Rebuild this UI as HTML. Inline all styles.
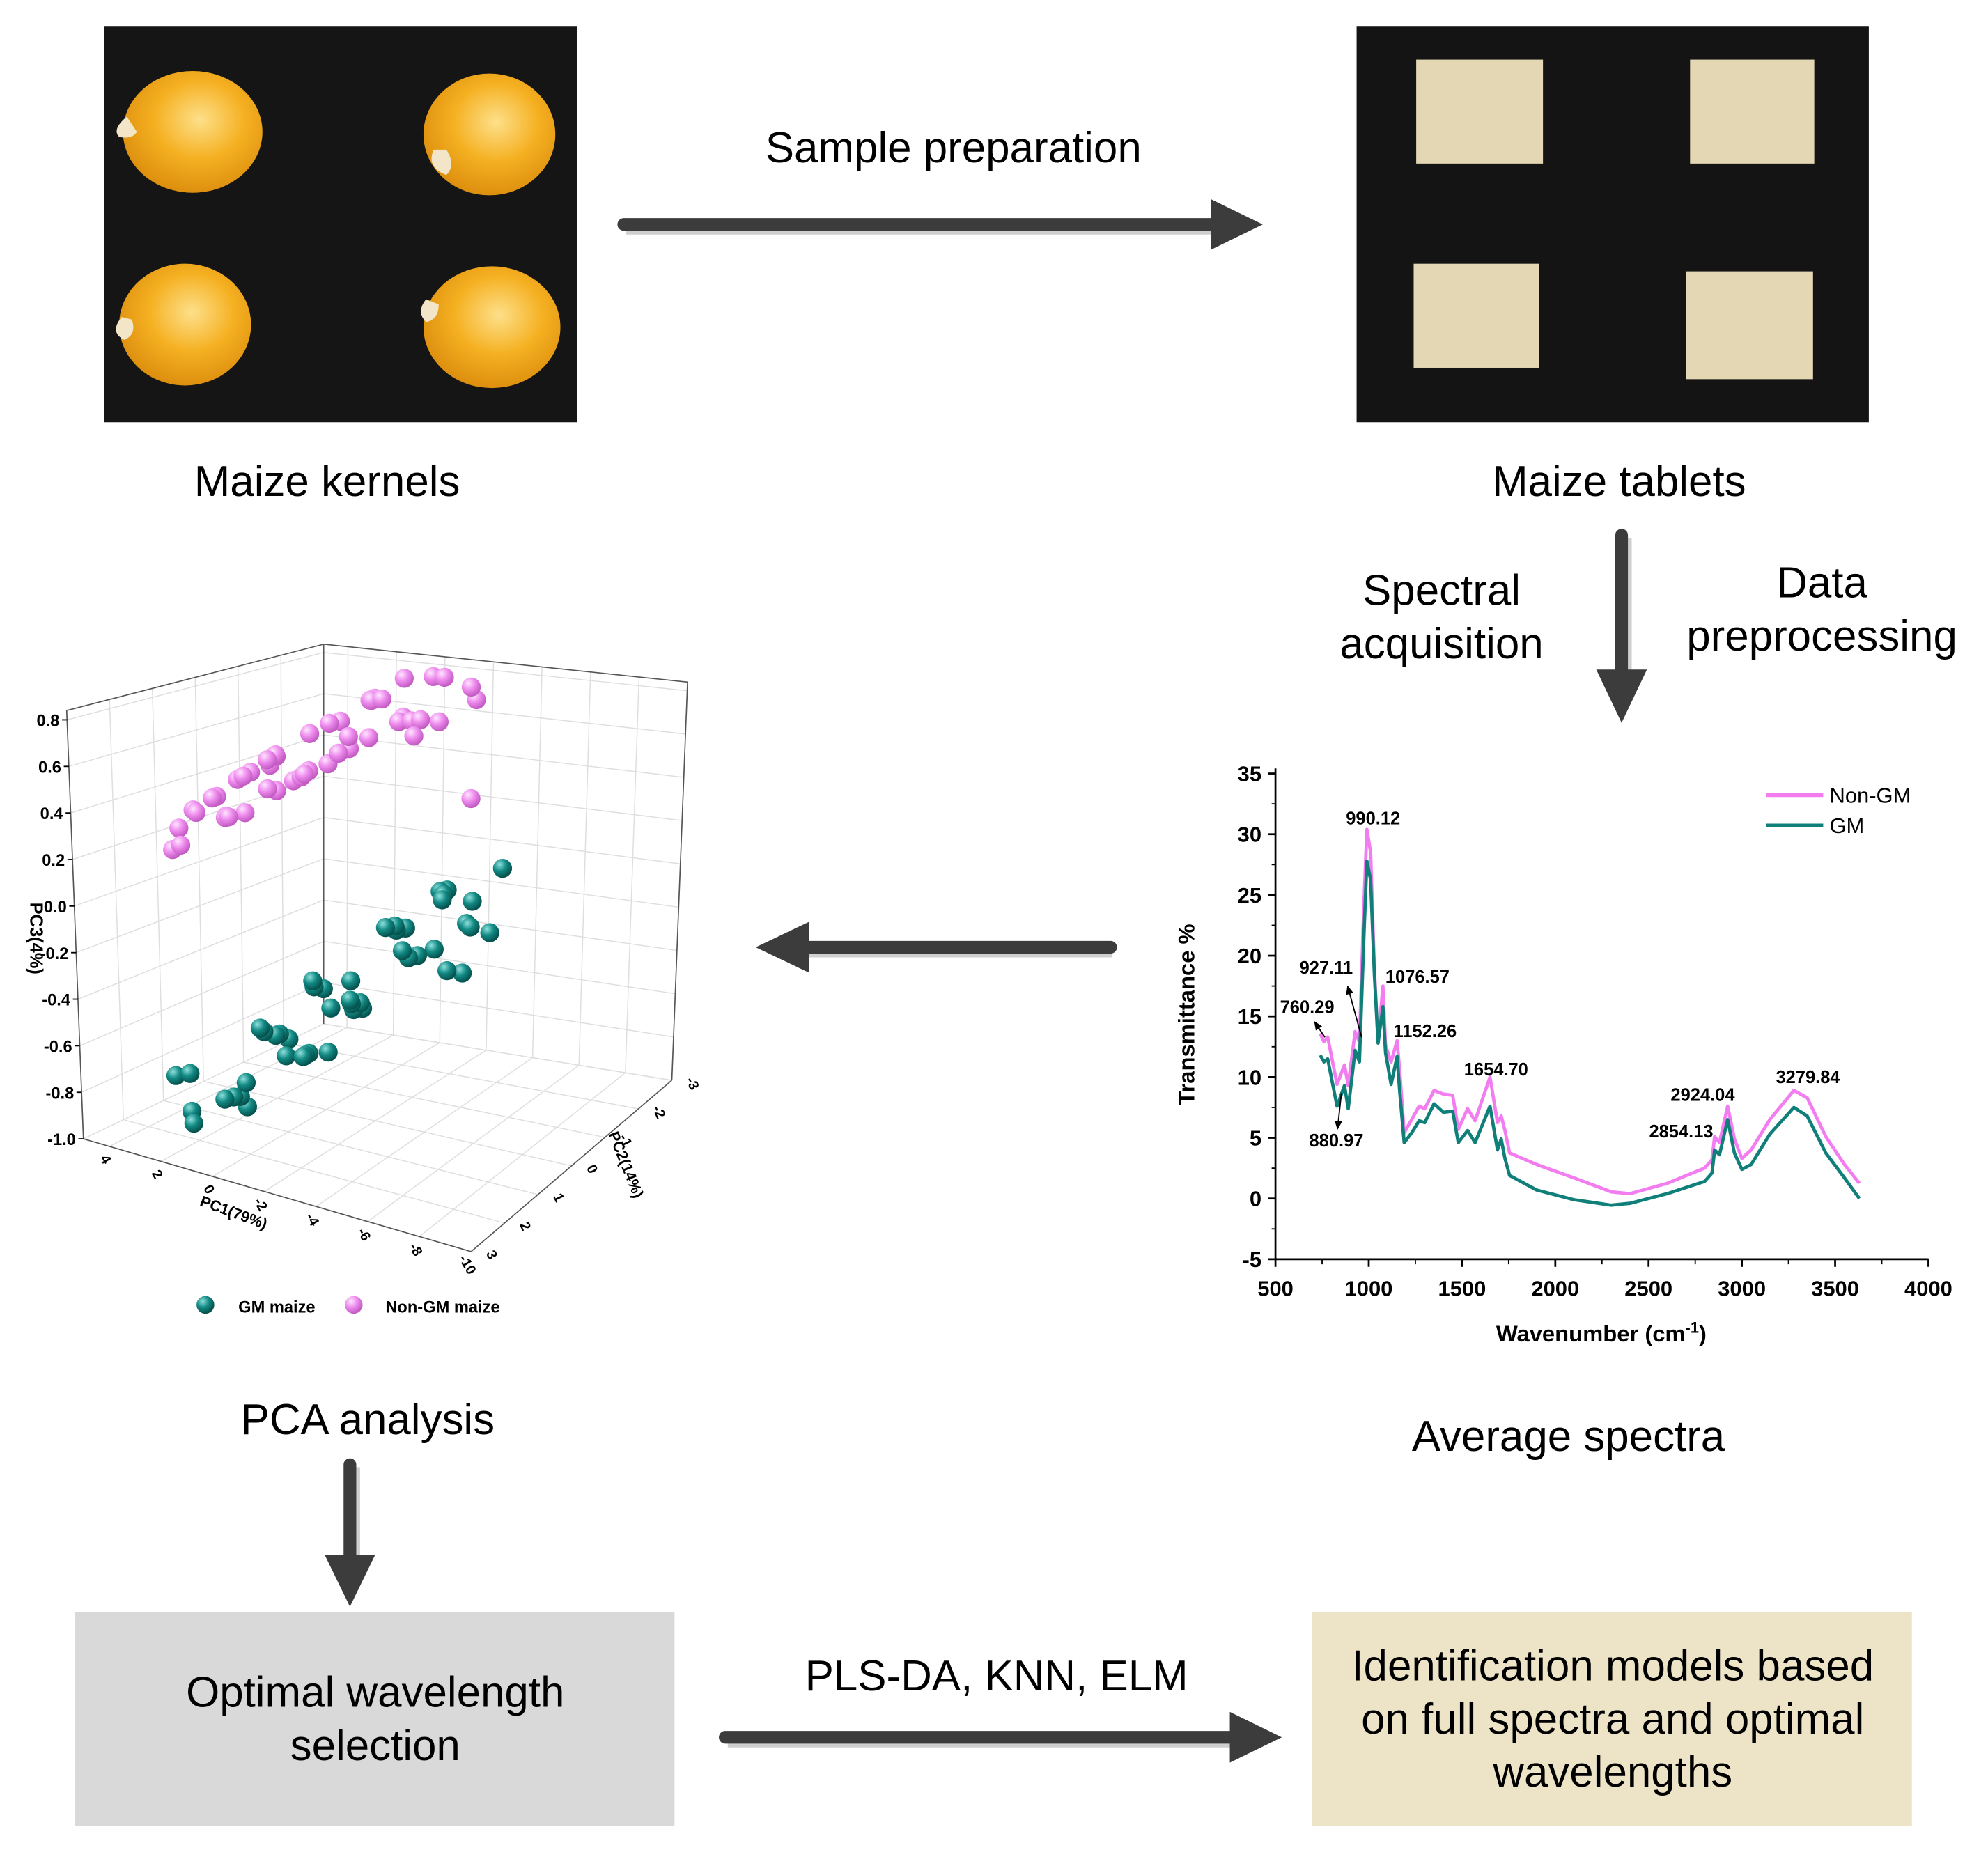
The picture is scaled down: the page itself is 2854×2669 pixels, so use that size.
<!DOCTYPE html>
<html><head><meta charset="utf-8"><style>
html,body{margin:0;padding:0;background:#fff}
svg{display:block}
text{font-family:"Liberation Sans",Arial,sans-serif}
</style></head><body>
<svg id="root" xmlns="http://www.w3.org/2000/svg" width="2854" height="2669" viewBox="0 0 1568 1466" preserveAspectRatio="none">
<defs>
<radialGradient id="kern" cx="0.55" cy="0.4" r="0.65"><stop offset="0" stop-color="#fde08a"/><stop offset="0.5" stop-color="#f5b021"/><stop offset="1" stop-color="#d98a0c"/></radialGradient>
<radialGradient id="pinkS" cx="0.35" cy="0.3" r="0.7"><stop offset="0" stop-color="#ffe6ff"/><stop offset="0.5" stop-color="#ee8cee"/><stop offset="1" stop-color="#c25ac2"/></radialGradient>
<radialGradient id="tealS" cx="0.35" cy="0.3" r="0.7"><stop offset="0" stop-color="#8fe0dc"/><stop offset="0.5" stop-color="#138a84"/><stop offset="1" stop-color="#05504c"/></radialGradient>
<marker id="ah" markerWidth="8" markerHeight="8" refX="6" refY="4" orient="auto"><path d="M0,1 L7,4 L0,7 z" fill="#000"/></marker>
</defs>

<g>
<rect x="82" y="21" width="373" height="312" fill="#151515"/>
<ellipse cx="152" cy="104" rx="55" ry="48" fill="url(#kern)"/>
<path d="M100 92 q-12 10 -6 16 q10 2 14 -4z" fill="#f3e6c8"/>
<ellipse cx="386" cy="106" rx="52" ry="48" fill="url(#kern)"/>
<path d="M342 118 q-6 14 10 20 q8 -8 0 -20z" fill="#f3e6c8"/>
<ellipse cx="146" cy="256" rx="52" ry="48" fill="url(#kern)"/>
<path d="M96 250 q-10 12 2 18 q10 -4 6 -16z" fill="#f3e6c8"/>
<ellipse cx="388" cy="258" rx="54" ry="48" fill="url(#kern)"/>
<path d="M336 236 q-8 10 0 18 q10 -2 10 -14z" fill="#f3e6c8"/>
</g>
<g>
<rect x="1070" y="21" width="404" height="312" fill="#141414"/>
<rect x="1117" y="47" width="100" height="82" fill="#e4d7b4"/>
<rect x="1333" y="47" width="98" height="82" fill="#e4d7b4"/>
<rect x="1115" y="208" width="99" height="82" fill="#e4d7b4"/>
<rect x="1330" y="214" width="100" height="85" fill="#e4d7b4"/>
</g>

<text x="752" y="128" font-size="34" text-anchor="middle">Sample preparation</text>
<text x="258" y="391" font-size="34" text-anchor="middle">Maize kernels</text>
<text x="1277" y="391" font-size="34" text-anchor="middle">Maize tablets</text>
<text x="1137" y="477" font-size="34" text-anchor="middle"><tspan x="1137">Spectral</tspan><tspan x="1137" dy="42">acquisition</tspan></text>
<text x="1437" y="471" font-size="34" text-anchor="middle"><tspan x="1437">Data</tspan><tspan x="1437" dy="42">preprocessing</tspan></text>
<text x="290" y="1131" font-size="34" text-anchor="middle">PCA analysis</text>
<text x="1237" y="1144" font-size="34" text-anchor="middle">Average spectra</text>
<text x="786" y="1333" font-size="34" text-anchor="middle">PLS-DA, KNN, ELM</text>

<g>
<line x1="494" y1="180" x2="962" y2="180" stroke="#cfcfcf" stroke-width="10"/>
<line x1="492" y1="177" x2="960" y2="177" stroke="#3c3c3c" stroke-width="10" stroke-linecap="round"/>
<polygon points="955,157 996,177 955,197" fill="#3c3c3c"/></g>
<g>
<line x1="1282" y1="424" x2="1282" y2="535" stroke="#cfcfcf" stroke-width="10"/>
<line x1="1279" y1="422" x2="1279" y2="530" stroke="#3c3c3c" stroke-width="10" stroke-linecap="round"/>
<polygon points="1259,528 1299,528 1279,570" fill="#3c3c3c"/></g>
<g>
<line x1="877" y1="750" x2="635" y2="750" stroke="#cfcfcf" stroke-width="10"/>
<line x1="876" y1="747" x2="635" y2="747" stroke="#3c3c3c" stroke-width="10" stroke-linecap="round"/>
<polygon points="638,727 638,767 596,747" fill="#3c3c3c"/></g>
<g>
<line x1="279" y1="1157" x2="279" y2="1230" stroke="#cfcfcf" stroke-width="10"/>
<line x1="276" y1="1155" x2="276" y2="1228" stroke="#3c3c3c" stroke-width="10" stroke-linecap="round"/>
<polygon points="256,1226 296,1226 276,1267" fill="#3c3c3c"/></g>
<g>
<line x1="574" y1="1373" x2="975" y2="1373" stroke="#cfcfcf" stroke-width="10"/>
<line x1="572" y1="1370" x2="972" y2="1370" stroke="#3c3c3c" stroke-width="10" stroke-linecap="round"/>
<polygon points="970,1350 1011,1370 970,1390" fill="#3c3c3c"/></g>

<g>
<rect x="59" y="1271" width="473" height="169" fill="#d9d9d9"/>
<text x="296" y="1346" font-size="34" text-anchor="middle"><tspan x="296">Optimal wavelength</tspan><tspan x="296" dy="42">selection</tspan></text></g>
<g>
<rect x="1035" y="1271" width="473" height="169" fill="#ede4c8"/>
<text x="1272" y="1325" font-size="34" text-anchor="middle"><tspan x="1272">Identification models based</tspan><tspan x="1272" dy="42">on full spectra and optimal</tspan><tspan x="1272" dy="42">wavelengths</tspan></text></g>

<g id="spectra"></g>
<g id="pca"></g>
</svg>
<script>
const NS="http://www.w3.org/2000/svg";
// ---- spectra data ----
const waveNumbers=[740,760,780,830,870,890,927,950,975,990,1010,1030,1050,1076,1090,1120,1152,1165,1190,1230,1270,1300,1350,1400,1450,1480,1530,1570,1650,1690,1710,1730,1755,1900,2100,2300,2400,2600,2800,2840,2854,2880,2924,2960,3000,3050,3150,3279,3350,3450,3550,3630];
const nonGM=[13.6,12.9,13.3,9.4,11,9.3,13.75,12.9,24.6,30.4,28.5,19,12.9,17.5,12.6,11.25,13,10.7,5.4,6.5,7.6,7.4,8.9,8.6,8.5,5.7,7.4,6.4,10,6.25,6.8,5.6,3.75,2.8,1.7,0.55,0.4,1.25,2.5,3.2,5.1,4.6,7.6,4.9,3.3,4,6.5,8.9,8.3,5.1,2.8,1.25];
const gm=[11.8,11.25,11.5,7.6,9.3,7.4,12.2,11.25,22,27.8,26.25,18.5,12.8,15.8,12,9.4,11.7,9,4.6,5.4,6.4,6.25,7.8,7.1,7.2,4.6,5.6,4.6,7.6,4,4.9,3.3,1.9,0.7,-0.1,-0.55,-0.4,0.4,1.4,2.1,4,3.6,6.5,3.75,2.4,2.8,5.3,7.5,6.8,3.75,1.7,0];
const yTicks=[35,30,25,20,15,10,5,0,-5];
const xTicks=[500,1000,1500,2000,2500,3000,3500,4000];
const peakLabels=["990.12","927.11","1076.57","760.29","1152.26","1654.70","880.97","2924.04","2854.13","3279.84"];
const peakPos=[[1083,650],[1046,768],[1118,775],[1031,799],[1124,818],[1180,848],[1054,904],[1343,868],[1326,897],[1426,854]];
const sx=v=>1006+(v-500)*(1521-1006)/3500;
const sy=v=>993-(v+5)*(993-610)/40;
function mk(tag,attrs,parent,txt){const e=document.createElementNS(NS,tag);for(const k in attrs)e.setAttribute(k,attrs[k]);if(txt!==undefined)e.textContent=txt;parent.appendChild(e);return e;}
const sp=document.getElementById('spectra');
mk('line',{x1:1006,y1:606,x2:1006,y2:993,stroke:'#000','stroke-width':1.5},sp);
mk('line',{x1:1006,y1:993,x2:1521,y2:993,stroke:'#000','stroke-width':1.5},sp);
yTicks.forEach(t=>{mk('line',{x1:1000,y1:sy(t),x2:1006,y2:sy(t),stroke:'#000','stroke-width':1.5},sp);
 if(t>-5)mk('line',{x1:1003,y1:sy(t-2.5),x2:1006,y2:sy(t-2.5),stroke:'#000','stroke-width':1},sp);
 const l=mk('text',{x:995,y:sy(t)+6,'font-size':17,'font-weight':'bold','text-anchor':'end'},sp,t);
 
 });
xTicks.forEach(t=>{mk('line',{x1:sx(t),y1:993,x2:sx(t),y2:999,stroke:'#000','stroke-width':1.5},sp);
 if(t<4000)mk('line',{x1:sx(t+250),y1:993,x2:sx(t+250),y2:997,stroke:'#000','stroke-width':1},sp);
 const l=mk('text',{x:sx(t),y:1022,'font-size':17,'font-weight':'bold','text-anchor':'middle'},sp,t);
 
 });
const xt=mk('text',{x:1263,y:1058,'font-size':18,'font-weight':'bold','text-anchor':'middle'},sp);
xt.innerHTML='Wavenumber (cm<tspan dy="-7" font-size="12">-1</tspan><tspan dy="7">)</tspan>';


const yt=mk('text',{x:0,y:0,transform:'translate(942,800) rotate(-90)','font-size':18,'font-weight':'bold','text-anchor':'middle'},sp,'Transmittance %');


function series(vals,color,name){const p=mk('polyline',{points:waveNumbers.map((w,i)=>sx(w)+','+sy(vals[i])).join(' '),fill:'none',stroke:color,'stroke-width':2.6,'stroke-linejoin':'round'},sp);
 
 }
series(nonGM,'#f37cf0','non-gm-line');
series(gm,'#117f79','gm-line');
peakLabels.forEach((s,i)=>{const l=mk('text',{x:peakPos[i][0],y:peakPos[i][1],'font-size':14,'font-weight':'bold','text-anchor':'middle'},sp,s);
 
 });
mk('line',{x1:1074,y1:818,x2:1063,y2:778,stroke:'#000','stroke-width':1,'marker-end':'url(#ah)'},sp);
mk('line',{x1:1045,y1:818,x2:1037,y2:806,stroke:'#000','stroke-width':1,'marker-end':'url(#ah)'},sp);
mk('line',{x1:1058,y1:862,x2:1055,y2:890,stroke:'#000','stroke-width':1,'marker-end':'url(#ah)'},sp);
const lg1=mk('line',{x1:1393,y1:627,x2:1438,y2:627,stroke:'#f37cf0','stroke-width':3},sp);


const lt1=mk('text',{x:1443,y:633,'font-size':17},sp,'Non-GM');


const lg2=mk('line',{x1:1393,y1:651,x2:1438,y2:651,stroke:'#117f79','stroke-width':3},sp);


const lt2=mk('text',{x:1443,y:657,'font-size':17},sp,'GM');



// ---- PCA data ----
const pinkPC1=[5.8,5.3,5.0,4.7,4.4,4.1,3.9,3.6,3.3,3.1,2.8,2.6,2.3,2.0,1.8,1.5,1.2,0.9,0.7,0.4,0.1,-0.2,-0.5,-0.8,-1.0,-1.3,-1.6,-1.9,-2.2,-2.5,-2.8,-3.1,-3.5,-3.9,-4.3,-4.8,-5.3,-5.8,-6.4,-6.1,-5.3,-7.3,3.0,1.5,0,4.2,1.0,-1.5];
const pinkPC2=[0,0.45,-0.45,0.6,0,-0.6,0.75,0.15,-0.75,0.45,0,-0.9,0.6,-0.15,0.75,-0.45,0.3,-0.75,0.6,0,-0.6,0.45,0,-0.75,0.75,0,-0.45,0.6,0,-0.6,0.3,-0.15,0.45,0,-0.3,0.3,0,-0.45,0,0.6,0.75,0.6,1.2,1.3,1.2,-1.2,-1.3,-1.2];
const pinkPC3=[0.14,0.08,0.27,0.12,0.3,0.2,0.3,0.24,0.42,0.26,0.44,0.35,0.45,0.36,0.48,0.41,0.55,0.46,0.58,0.48,0.67,0.5,0.7,0.6,0.7,0.6,0.8,0.62,0.82,0.72,0.84,0.73,0.86,0.75,0.93,0.78,0.95,0.84,0.92,0.8,0.74,0.5,0.33,0.34,0.6,0.27,0.55,0.85];
const tealPC1=[5.5,4.8,4.2,3.9,3.5,3.1,2.8,2.5,2.2,2.0,1.8,1.5,1.3,1.0,0.8,0.5,0.3,0,-0.3,-0.6,-0.9,-1.2,-1.5,-1.8,-2.1,-2.4,-2.7,-3.0,-3.3,-3.6,-3.9,-4.2,-4.5,-4.9,-5.3,-5.7,-6.1,-6.5,-6.9,-7.2,-7.0,-6.7,3.0,-1.5,1.0,2.0,-1.0,-3.0];
const tealPC2=[0,0.8,-0.6,1.0,0,-1.0,0.6,-0.4,1.2,0,-1.2,0.6,-0.4,1.0,0,-1.0,0.8,0,-0.8,0.6,-0.2,1.0,0,-1.0,0.6,-0.4,1.0,0,-0.8,0.6,0,-0.6,0.6,0,-0.4,0.4,0,-0.6,0,0.6,0.8,1.0,1.5,1.5,1.4,-1.4,-1.4,-1.2];
const tealPC3=[-1.15,-0.9,-1.15,-0.85,-1.03,-0.85,-0.96,-0.76,-0.9,-0.72,-0.9,-0.64,-0.82,-0.58,-0.78,-0.53,-0.7,-0.47,-0.62,-0.4,-0.56,-0.33,-0.5,-0.25,-0.44,-0.2,-0.38,-0.14,-0.3,-0.09,-0.25,-0.01,-0.2,0.04,-0.12,0.07,-0.09,0.12,-0.1,0.08,-0.2,-0.18,-1.0,-0.6,-0.78,-0.72,-0.4,-0.12];
const pc3Ticks=["-1.0","-0.8","-0.6","-0.4","-0.2","0.0","0.2","0.4","0.6","0.8"];
const pc1Ticks=[4,2,0,-2,-4,-6,-8,-10];
const pc2Ticks=[3,2,1,0,-1,-2,-3];
// box corners (screen geometry, not data)
const CB={L:[65.8,898.1],F:[371.6,987],R:[529.9,851.9],B:[255.3,807.4]};
const CT={L:[52.6,560.3],F:[339.6,590.2],R:[542.3,537.9],B:[255.3,508]};
function bil(C,u,v,k){return C.L[k]*(1-u)*(1-v)+C.F[k]*u*(1-v)+C.R[k]*u*v+C.B[k]*(1-u)*v;}
function proj(a,b,c){const u=(5-a)/15,v=(3-b)/6,w=(c+1)/1.84;
 return [bil(CB,u,v,0)+w*(bil(CT,u,v,0)-bil(CB,u,v,0)), bil(CB,u,v,1)+w*(bil(CT,u,v,1)-bil(CB,u,v,1))];}
const pg=document.getElementById('pca');
function seg(p,q,st){const A=proj(...p),B=proj(...q);mk('line',Object.assign({x1:A[0],y1:A[1],x2:B[0],y2:B[1]},st),pg);}
const gs={stroke:'#dedede','stroke-width':0.8};
const ZT=0.84;
for(let i=0;i<10;i++){const c=-1+i*0.2;seg([5,3,c],[5,-3,c],gs);seg([5,-3,c],[-10,-3,c],gs);}
for(let b=3;b>=-3;b--){seg([5,b,-1],[5,b,ZT],gs);seg([5,b,-1],[-10,b,-1],gs);}
for(let a=4;a>=-10;a-=2){seg([a,-3,-1],[a,-3,ZT],gs);seg([a,3,-1],[a,-3,-1],gs);}
const ed={stroke:'#555','stroke-width':0.9};
[[[5,3,-1],[-10,3,-1]],[[-10,3,-1],[-10,-3,-1]],[[5,3,-1],[5,3,ZT]],[[-10,-3,-1],[-10,-3,ZT]],[[5,-3,-1],[5,-3,ZT]],[[5,3,ZT],[5,-3,ZT]],[[5,-3,ZT],[-10,-3,ZT]]].forEach(e=>seg(e[0],e[1],ed));
pc3Ticks.forEach((t,i)=>{const c=-1+i*0.2;const p=proj(5,3,c);
 mk('line',{x1:p[0]-4,y1:p[1],x2:p[0],y2:p[1],stroke:'#000','stroke-width':1},pg);
 const l=mk('text',{x:p[0]-6,y:p[1]+5,'font-size':13,'font-weight':'bold','text-anchor':'end'},pg,t);
 
 });
pc1Ticks.forEach(t=>{const p=proj(t,3,-1);
 const l=mk('text',{x:0,y:0,transform:`translate(${p[0]-6},${p[1]+12}) rotate(60)`,'font-size':11,'font-weight':'bold','text-anchor':'middle'},pg,t);
 
 });
pc2Ticks.forEach(t=>{const p=proj(-10,t,-1);
 const l=mk('text',{x:0,y:0,transform:`translate(${p[0]+13},${p[1]+4}) rotate(65)`,'font-size':11,'font-weight':'bold','text-anchor':'middle'},pg,t);
 
 });
const a1=mk('text',{x:0,y:0,transform:'translate(183,960) rotate(20)','font-size':12,'font-weight':'bold','text-anchor':'middle'},pg,'PC1(79%)');


const a2=mk('text',{x:0,y:0,transform:'translate(490,920) rotate(68)','font-size':12,'font-weight':'bold','text-anchor':'middle'},pg,'PC2(14%)');


const a3=mk('text',{x:0,y:0,transform:'translate(24,740) rotate(90)','font-size':14,'font-weight':'bold','text-anchor':'middle'},pg,'PC3(4%)');


function dots(p1,p2,p3,fill,name){p1.forEach((v,i)=>{const q=proj(v,p2[i],p3[i]);const d=mk('circle',{cx:q[0],cy:q[1],r:7.5,fill:fill},pg);
 
 });}
dots(tealPC1,tealPC2,tealPC3,'url(#tealS)','gm-point');
dots(pinkPC1,pinkPC2,pinkPC3,'url(#pinkS)','non-gm-point');
const l1=mk('circle',{cx:162,cy:1029,r:7,fill:'url(#tealS)'},pg);


const l1t=mk('text',{x:188,y:1035,'font-size':13,'font-weight':'bold'},pg,'GM maize');


const l2=mk('circle',{cx:279,cy:1029,r:7,fill:'url(#pinkS)'},pg);


const l2t=mk('text',{x:304,y:1035,'font-size':13,'font-weight':'bold'},pg,'Non-GM maize');


</script>
</body></html>
